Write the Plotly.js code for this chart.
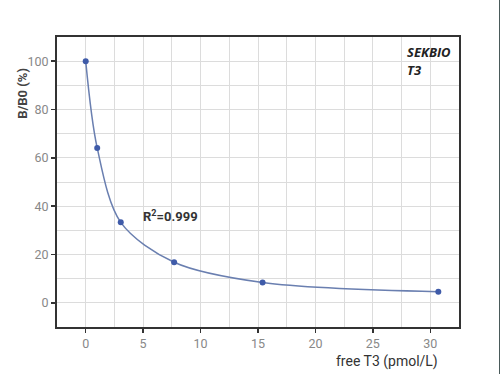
<!DOCTYPE html>
<html>
<head>
<meta charset="utf-8">
<script src="https://cdn.plot.ly/plotly-3.0.1.min.js"></script>
<style>
html,body{margin:0;padding:0;background:#fff;}
#chart{width:499px;height:374px;border-right:1px solid #4a5a5a;}
</style>
</head>
<body>
<div id="chart"></div>
<script>
const concentration = [0, 1.0, 3.05, 7.7, 15.4, 30.7];
const bb0 = [100, 64.1, 33.3, 16.8, 8.4, 4.6];
const xTicks = [0, 5, 10, 15, 20, 25, 30];
const yTicks = [0, 20, 40, 60, 80, 100];

const trace = {
  x: concentration,
  y: bb0,
  mode: 'lines+markers',
  line: {shape: 'spline', smoothing: 0.9, color: '#6a7fb0', width: 1.5},
  marker: {color: '#3f5ba9', size: 6},
  hoverinfo: 'none'
};

const font = {family: 'Roboto, Liberation Sans, sans-serif', color: '#666', size: 12};

const layout = {
  width: 499, height: 374,
  margin: {l: 57, r: 40, t: 37, b: 47},
  paper_bgcolor: '#fff', plot_bgcolor: '#fff',
  showlegend: false,
  font: font,
  xaxis: {
    range: [-2.5, 32.5],
    tickvals: xTicks,
    ticks: 'outside', ticklen: 4, tickwidth: 1.5, tickcolor: '#333',
    showgrid: true, gridcolor: '#dcdcdc', gridwidth: 1,
    minor: {dtick: 2.5, tick0: 0, showgrid: true, gridcolor: '#dcdcdc', ticks: ''},
    zeroline: false,
    showline: true, linecolor: '#333', linewidth: 2, mirror: true,
    tickfont: {size: 12.5, color: '#888'},
    ticklabelstandoff: 0
  },
  yaxis: {
    range: [-10, 110],
    tickvals: yTicks,
    ticks: 'outside', ticklen: 4, tickwidth: 1.5, tickcolor: '#333',
    showgrid: true, gridcolor: '#dcdcdc', gridwidth: 1,
    minor: {dtick: 10, showgrid: true, gridcolor: '#dcdcdc', ticks: ''},
    zeroline: false,
    showline: true, linecolor: '#333', linewidth: 2, mirror: true,
    tickfont: {size: 12.5, color: '#888'}
  },
  annotations: [
    {xref: 'paper', yref: 'paper', x: -0.085, y: 0.807, xanchor: 'center', yanchor: 'middle',
     textangle: -90, text: '<b>B/B0 (%)</b>', showarrow: false, font: {size: 13, color: '#444'}},
    {xref: 'paper', yref: 'paper', x: 0.953, y: -0.118, xanchor: 'right', yanchor: 'middle',
     text: 'free T3 (pmol/L)', showarrow: false, font: {size: 14, color: '#333'}},
    {xref: 'x', yref: 'y', x: 4.8, y: 36, xanchor: 'left', yanchor: 'middle',
     text: '<b>R<sup>2</sup>=0.999</b>', showarrow: false, font: {size: 13, color: '#333'}},
    {xref: 'x', yref: 'y', x: 27.8, y: 104, xanchor: 'left', yanchor: 'middle',
     text: '<b><i>SEKBIO</i></b>', showarrow: false, font: {family: 'Open Sans, sans-serif', size: 13, color: '#222'}},
    {xref: 'x', yref: 'y', x: 27.8, y: 96.5, xanchor: 'left', yanchor: 'middle',
     text: '<b><i>T3</i></b>', showarrow: false, font: {family: 'Open Sans, sans-serif', size: 13, color: '#222'}}
  ]
};

Plotly.newPlot('chart', [trace], layout, {staticPlot: true, displayModeBar: false});
</script>
</body>
</html>
